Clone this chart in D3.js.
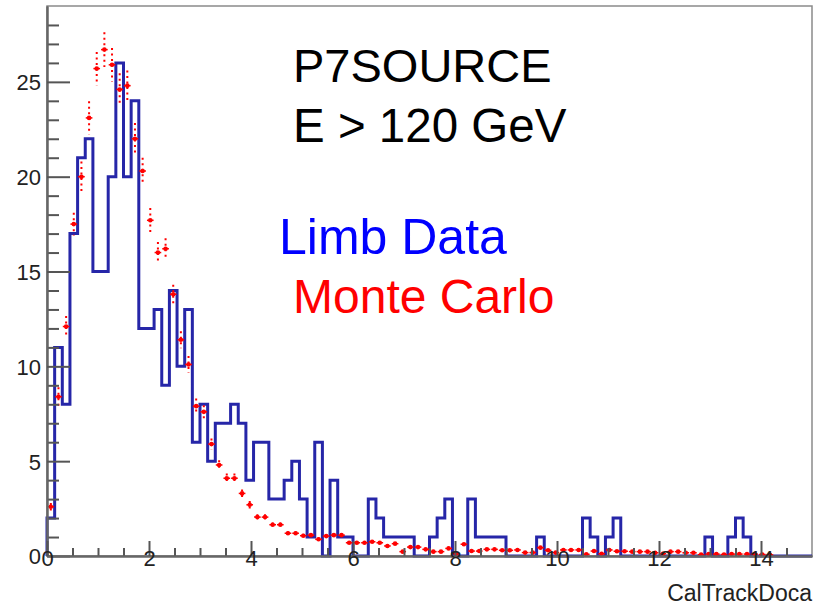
<!DOCTYPE html>
<html>
<head>
<meta charset="utf-8">
<script src="https://cdn.jsdelivr.net/npm/d3@7"></script>
<style>
body{margin:0;background:#fff;}
text{font-family:"Liberation Sans",Arial,sans-serif;}
</style>
</head>
<body>
<script>
// 100 bins of width 0.15 from 0 to 15
var binWidth = 0.15;

var limbData = [
  2, 11, 8, 17, 21, 22, 15, 15, 20, 26,
  20, 24, 12, 12, 13, 9, 14, 10, 13, 6,
  8, 5, 7, 7, 8, 7, 4, 6, 6, 3,
  3, 4, 5, 3, 1, 6, 0, 4, 1, 1,
  0, 0, 3, 2, 1, 1, 1, 1, 0, 0,
  1, 2, 3, 0, 0, 3, 1, 1, 1, 1,
  0, 0, 0, 0, 1, 0, 0, 0, 0, 0,
  2, 1, 0, 1, 2, 0, 0, 0, 0, 0,
  0, 0, 0, 0, 0, 0, 1, 0, 0, 1,
  2, 1, 0, 0, 0, 0, 0, 0, 0, 0
];

var monteCarlo = [
  2.6, 8.4, 12.1, 17.5, 20.0, 23.1, 25.7, 26.7, 25.9, 24.6,
  24.8, 22.0, 20.3, 17.7, 16.0, 16.2, 13.8, 11.4, 10.1, 7.9,
  7.6, 5.9, 4.8, 4.1, 4.1, 3.3, 2.7, 2.05, 2.05, 1.65,
  1.65, 1.2, 1.2, 1.07, 1.1, 0.88, 1.05, 1.1, 1.1, 0.7,
  0.7, 0.7, 0.75, 0.7, 0.53, 0.65, 0.23, 0.47, 0.47, 0.35,
  0.23, 0.23, 0.4, 0.12, 0.62, 0.26, 0.26, 0.35, 0.35, 0.3,
  0.3, 0.32, 0.18, 0.18, 0.44, 0.3, 0.18, 0.32, 0.32, 0.32,
  0.09, 0.26, 0.12, 0.32, 0.25, 0.25, 0.23, 0.23, 0.23, 0.17,
  0.12, 0.23, 0.23, 0.17, 0.17, 0.07, 0.1, 0.1, 0.08, 0.1,
  0.1, 0.1, 0.1, 0.08, 0.06, 0, 0, 0, 0, 0
];

var monteCarloErr = [
  0.2, 0.5, 0.55, 0.6, 0.8, 0.88, 0.88, 0.92, 0.88, 0.85,
  0.8, 0.83, 0.7, 0.65, 0.55, 0.55, 0.5, 0.45, 0.45, 0.4,
  0.35, 0.3, 0.25, 0.25, 0.25, 0.2, 0.2, 0.15, 0.15, 0.12,
  0.12, 0.1, 0.1, 0.1, 0.1, 0.1, 0.1, 0.1, 0.1, 0.08,
  0.08, 0.08, 0.08, 0.08, 0.07, 0.07, 0.05, 0.06, 0.06, 0.06,
  0.05, 0.05, 0.06, 0.04, 0.07, 0.05, 0.05, 0.06, 0.06, 0.05,
  0.05, 0.05, 0.04, 0.04, 0.06, 0.05, 0.04, 0.05, 0.05, 0.05,
  0.03, 0.05, 0.04, 0.05, 0.05, 0.05, 0.05, 0.05, 0.05, 0.04,
  0.04, 0.05, 0.05, 0.04, 0.04, 0.03, 0.03, 0.03, 0.03, 0.03,
  0.03, 0.03, 0.03, 0.03, 0.03, 0, 0, 0, 0, 0
];

var xMajorTicks = [0, 2, 4, 6, 8, 10, 12, 14];
var yMajorTicks = [0, 5, 10, 15, 20, 25];
var xTitle = "CalTrackDoca";
var textLines = [
  {t:"P7SOURCE", c:"#000"},
  {t:"E > 120 GeV", c:"#000"},
  {t:"Limb Data", c:"#0000ff"},
  {t:"Monte Carlo", c:"#ff0000"}
];

var width = 817,
    height = 605;

var x = d3.scaleLinear().domain([0,15]).range([47,812]);
var y = d3.scaleLinear().domain([0,29]).range([556,6]);

var svg = d3.select("body").append("svg")
    .attr("width",width)
    .attr("height",height);

// frame
svg.append("rect")
    .attr("x",x(0)).attr("y",y(29))
    .attr("width",x(15)-x(0)).attr("height",y(0)-y(29))
    .attr("fill","none").attr("stroke","#8a8a8a").attr("stroke-width",1.5);

// blue histogram
var pts = [{x:0,y:0}];
limbData.forEach(function(v,i){ pts.push({x:i*binWidth,y:v}); });
pts.push({x:15,y:0});
var step = d3.line().curve(d3.curveStepAfter)
    .x(function(d){return x(d.x);})
    .y(function(d){return y(d.y);});
svg.append("path")
    .attr("d",step(pts))
    .attr("fill","none")
    .attr("stroke","#2626a8")
    .attr("stroke-width",3);

// monte carlo points
var mc = monteCarlo.map(function(v,i){return {c:(i+0.5)*binWidth,v:v,e:monteCarloErr[i]};})
    .filter(function(d){return d.v>0;});
var mcG = svg.append("g").attr("class","mc");
mcG.selectAll(".ey").data(mc).enter().append("line")
    .attr("x1",function(d){return x(d.c);})
    .attr("x2",function(d){return x(d.c);})
    .attr("y1",function(d){return y(d.v+d.e);})
    .attr("y2",function(d){return y(d.v-d.e);})
    .attr("stroke","#ff0000").attr("stroke-width",2)
    .attr("stroke-dasharray","2,3.5");
mcG.selectAll(".ex").data(mc).enter().append("line")
    .attr("x1",function(d){return x(d.c-binWidth/2)+0.5;})
    .attr("x2",function(d){return x(d.c+binWidth/2)-0.5;})
    .attr("y1",function(d){return y(d.v);})
    .attr("y2",function(d){return y(d.v);})
    .attr("stroke","#ff0000").attr("stroke-width",1.5);
mcG.selectAll("circle").data(mc).enter().append("circle")
    .attr("cx",function(d){return x(d.c);})
    .attr("cy",function(d){return y(d.v);})
    .attr("r",2.3)
    .attr("fill","#ff0000");

// axes
function styleAxis(g){
    g.select(".domain").attr("stroke","#666").attr("stroke-width",2);
    g.selectAll(".tick line").attr("stroke","#555").attr("stroke-width",2);
    g.selectAll(".tick text").attr("fill","#222").style("font-size","22px")
        .style("font-family","'Liberation Sans',Arial,sans-serif");
}

var yMinor = d3.range(1,29).filter(function(v){return v%5!=0;});
svg.append("g").attr("transform","translate("+x(0)+",0)")
    .call(d3.axisLeft(y).tickValues(yMinor).tickSize(-12).tickSizeOuter(0).tickFormat(""))
    .call(styleAxis);
svg.append("g").attr("transform","translate("+x(0)+",0)")
    .call(d3.axisLeft(y).tickValues(yMajorTicks).tickSize(-23).tickSizeOuter(0).tickPadding(6))
    .call(styleAxis)
    .selectAll(".tick text").attr("dy","0.36em");

var xMinor = d3.range(0.5,15,0.5).filter(function(v){return v%2!=0;});
svg.append("g").attr("transform","translate(0,"+y(0)+")")
    .call(d3.axisBottom(x).tickValues(xMinor).tickSize(-8).tickSizeOuter(0).tickFormat(""))
    .call(styleAxis);
svg.append("g").attr("transform","translate(0,"+y(0)+")")
    .call(d3.axisBottom(x).tickValues(xMajorTicks).tickSize(-15).tickSizeOuter(0).tickPadding(8))
    .call(styleAxis)
    .selectAll(".tick text").attr("dy","0.1em").attr("y",8);

svg.append("text")
    .attr("x",x(15))
    .attr("y",601)
    .attr("text-anchor","end")
    .attr("fill","#222")
    .style("font-size","23px")
    .text(xTitle);

// labels
var lx = [293, 293, 279, 293],
    ly = [82, 142, 254, 313],
    fs = [47, 47.5, 50, 48];
svg.append("g").selectAll("text").data(textLines).enter().append("text")
    .attr("x",function(d,i){return lx[i];})
    .attr("y",function(d,i){return ly[i];})
    .attr("fill",function(d){return d.c;})
    .style("font-size",function(d,i){return fs[i]+"px";})
    .text(function(d){return d.t;});
</script>
</body>
</html>
